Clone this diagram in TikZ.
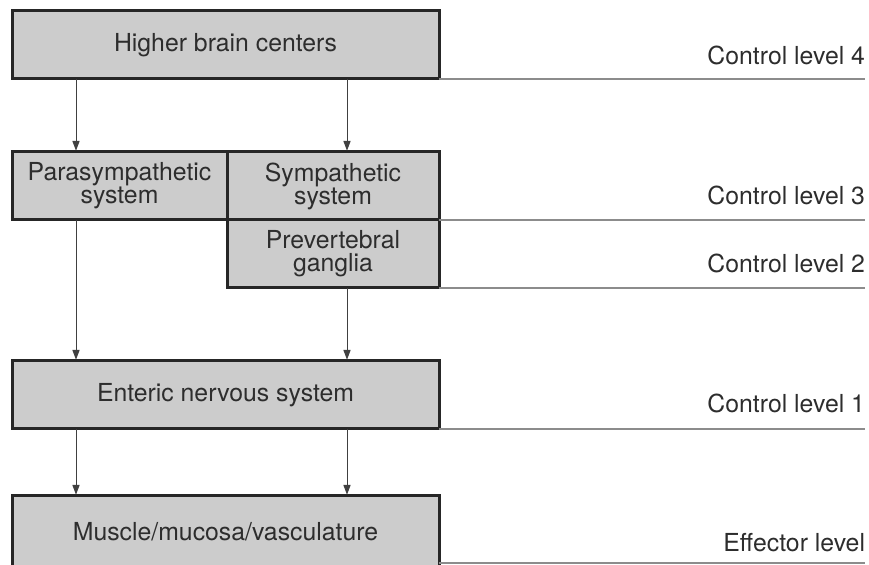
\documentclass[tikz,border=0pt]{standalone}
\usepackage{fontspec}
\setmainfont{TeX Gyre Heros}
\usepackage{xcolor}
\usepackage{tikz}
\usetikzlibrary{arrows.meta, positioning}
\definecolor{boxgray}{RGB}{204,204,204}
\definecolor{inkgray}{RGB}{45,45,45}
\tikzset {
    block/.style = {
        draw = black!85,
        fill = boxgray,
        line width = 1.5pt,
        minimum height = 34pt,
        inner sep = 0pt,
        outer sep = 0pt,
        align = center,
        text = inkgray,
        font = {\fontsize{12.4}{11.5}\selectfont\lineskiplimit=-10pt} % tight two-line labels
    },
    wide/.style = {
        block,
        minimum width = 213.5pt
    },
    half/.style = {
        block,
        minimum width = #1
    },
    signal/.style = {
        -{Triangle[length=5pt, width=3.6pt]},
        line width = 0.5pt,
        shorten > = 0.6pt,
        draw = black!75
    },
    level/.style = {
        draw = black!45,
        line width = 0.6pt
    },
    leveltext/.style = {
        text = inkgray,
        inner sep = 0pt,
        outer sep = 0pt,
        font = {\fontsize{12.4}{14}\selectfont}
    }
}

\begin{document}
\begin{tikzpicture}
        \useasboundingbox (0,0) rectangle (434.5pt,-282.5pt);

        % Boxes, from the top down
        \node [wide, anchor=north west] at (6pt,-5.5pt)                    (higher)  {Higher brain centers};
        \node [half=107.5pt, below right=36.5pt and 0pt of higher.south west] (para)   {Parasympathetic\\system};
        \node [half=106pt, right=0pt of para]                              (symp)    {Sympathetic\\system};
        \node [half=106pt, below=0pt of symp]                              (prev)    {Prevertebral\\ganglia};
        \node [wide, below right=70.5pt and 0pt of para.south west]        (enteric) {Enteric nervous system};
        \node [wide, minimum height=36pt, below right=33.5pt and 0pt of enteric.south west] (muscle) {Muscle/mucosa/vasculature};

        % Columns of the arrows
        \coordinate [right=32pt of higher.south west]                      (colA);
        \coordinate [right=167.5pt of higher.south west]                   (colB);

        % Right ends of the level lines
        \coordinate [right=213pt of higher.south east]                     (lvl4);
        \coordinate [right=213pt of symp.south east]                       (lvl3);
        \coordinate [right=213pt of prev.south east]                       (lvl2);
        \coordinate [right=213pt of enteric.south east]                    (lvl1);
        \coordinate [above right=2.5pt and 213pt of muscle.south east]     (lvl0);

        \path [signal]  (colA)                  --  (para.north -| colA);
        \path [signal]  (colB)                  --  (symp.north -| colB);
        \path [signal]  (para.south -| colA)    --  (enteric.north -| colA);
        \path [signal]  (prev.south -| colB)    --  (enteric.north -| colB);
        \path [signal]  (enteric.south -| colA) --  (muscle.north -| colA);
        \path [signal]  (enteric.south -| colB) --  (muscle.north -| colB);

        \path [level]   (higher.south east)     --  (lvl4);
        \path [level]   (symp.south east)       --  (lvl3);
        \path [level]   (prev.south east)       --  (lvl2);
        \path [level]   (enteric.south east)    --  (lvl1);
        \path [level]   (muscle.east |- lvl0)   --  (lvl0);

        \node [leveltext, above=7pt of lvl4, anchor=base east]   (text4) {Control level 4};
        \node [leveltext, above=7.5pt of lvl3, anchor=base east] (text3) {Control level 3};
        \node [leveltext, above=7.5pt of lvl2, anchor=base east] (text2) {Control level 2};
        \node [leveltext, above=8pt of lvl1, anchor=base east]   (text1) {Control level 1};
        \node [leveltext, above=5.5pt of lvl0, anchor=base east] (text0) {Effector level};
\end{tikzpicture}
\end{document}
